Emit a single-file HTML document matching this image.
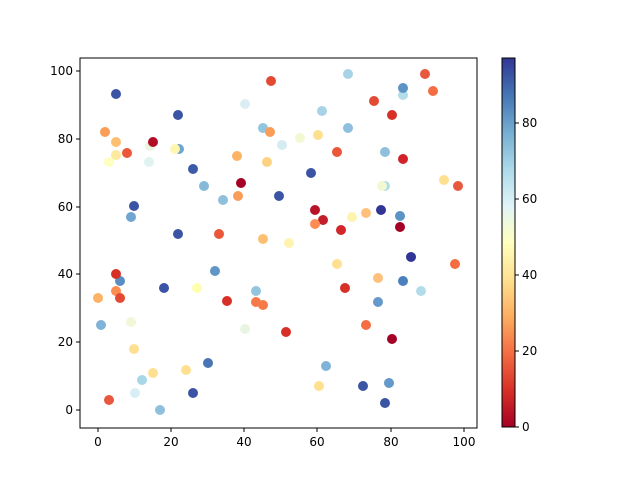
<!DOCTYPE html>
<html><head><meta charset="utf-8"><style>body{margin:0;background:#fff}</style></head><body>
<svg width="640" height="480" xmlns="http://www.w3.org/2000/svg" font-family="DejaVu Sans, Liberation Sans, sans-serif" font-size="12">
<defs><linearGradient id="g" x1="0" y1="1" x2="0" y2="0">
<stop offset="0" stop-color="#a50026"/><stop offset="0.1" stop-color="#d73027"/><stop offset="0.2" stop-color="#f46d43"/><stop offset="0.3" stop-color="#fdae61"/><stop offset="0.4" stop-color="#fee090"/><stop offset="0.5" stop-color="#ffffbf"/><stop offset="0.6" stop-color="#e0f3f8"/><stop offset="0.7" stop-color="#abd9e9"/><stop offset="0.8" stop-color="#74add1"/><stop offset="0.9" stop-color="#4575b4"/><stop offset="1" stop-color="#313695"/></linearGradient></defs>
<g r="5">
<circle cx="116" cy="94" r="5" fill="#3b54a3"/><circle cx="271" cy="81" r="5" fill="#e34a33"/><circle cx="245" cy="104" r="5" fill="#dbeef5"/><circle cx="178" cy="115" r="5" fill="#3b54a3"/><circle cx="263" cy="128" r="5" fill="#92c5de"/><circle cx="270" cy="132" r="5" fill="#f99d59"/><circle cx="105" cy="132" r="5" fill="#f99d59"/><circle cx="116" cy="142" r="5" fill="#fdbf71"/><circle cx="150" cy="146" r="5" fill="#eaf5e0"/><circle cx="153" cy="142" r="5" fill="#b30d26"/><circle cx="127" cy="153" r="5" fill="#ea5739"/><circle cx="179" cy="149" r="5" fill="#6fa5d0"/><circle cx="175" cy="149" r="5" fill="#fff6b0"/><circle cx="116" cy="155" r="5" fill="#fee99d"/><circle cx="109" cy="162" r="5" fill="#ffffbf"/><circle cx="149" cy="162" r="5" fill="#e0f3f0"/><circle cx="237" cy="156" r="5" fill="#fdb365"/><circle cx="267" cy="162" r="5" fill="#fed283"/><circle cx="193" cy="169" r="5" fill="#3c5ba6"/><circle cx="204" cy="186" r="5" fill="#84b9d9"/><circle cx="241" cy="183" r="5" fill="#a50026"/><circle cx="223" cy="200" r="5" fill="#8ec0dd"/><circle cx="238" cy="196" r="5" fill="#f99d59"/><circle cx="134" cy="206" r="5" fill="#3b54a3"/><circle cx="131" cy="217" r="5" fill="#6fa5d0"/><circle cx="178" cy="234" r="5" fill="#3b54a3"/><circle cx="219" cy="234" r="5" fill="#ea5739"/><circle cx="263" cy="239" r="5" fill="#fdbf71"/>
<circle cx="348" cy="74" r="5" fill="#a8d2e6"/><circle cx="425" cy="74" r="5" fill="#e8583e"/><circle cx="403" cy="95" r="5" fill="#b2dcea"/><circle cx="403" cy="88" r="5" fill="#5b93c5"/><circle cx="433" cy="91" r="5" fill="#f46d43"/><circle cx="374" cy="101" r="5" fill="#e34a33"/><circle cx="392" cy="115" r="5" fill="#d73027"/><circle cx="322" cy="111" r="5" fill="#a8d2e6"/><circle cx="348" cy="128" r="5" fill="#8ec0dd"/><circle cx="300" cy="138" r="5" fill="#f1f9d3"/><circle cx="318" cy="135" r="5" fill="#fee090"/><circle cx="282" cy="145" r="5" fill="#d4ebf3"/><circle cx="337" cy="152" r="5" fill="#ea5739"/><circle cx="385" cy="152" r="5" fill="#8ec0dd"/><circle cx="403" cy="159" r="5" fill="#d0232a"/><circle cx="311" cy="173" r="5" fill="#3b54a3"/><circle cx="444" cy="180" r="5" fill="#fee090"/><circle cx="458" cy="186" r="5" fill="#e8583e"/><circle cx="385" cy="186" r="5" fill="#b2dcea"/><circle cx="382" cy="186" r="5" fill="#f1f9d3"/><circle cx="279" cy="196" r="5" fill="#3b54a3"/><circle cx="315" cy="210" r="5" fill="#b9132a"/><circle cx="323" cy="220" r="5" fill="#c31e2a"/><circle cx="315" cy="224" r="5" fill="#fd8d55"/><circle cx="352" cy="217" r="5" fill="#fff3b0"/><circle cx="366" cy="213" r="5" fill="#fec07b"/><circle cx="381" cy="210" r="5" fill="#313695"/><circle cx="400" cy="216" r="5" fill="#5b93c5"/><circle cx="400" cy="227" r="5" fill="#a50026"/><circle cx="341" cy="230" r="5" fill="#d2262a"/><circle cx="289" cy="243" r="5" fill="#fff3b0"/>
<circle cx="120" cy="281" r="5" fill="#5a8ec3"/><circle cx="116" cy="274" r="5" fill="#d73027"/><circle cx="164" cy="288" r="5" fill="#3b54a3"/><circle cx="197" cy="288" r="5" fill="#ffffb0"/><circle cx="215" cy="271" r="5" fill="#6096c6"/><circle cx="116" cy="291" r="5" fill="#fd8d50"/><circle cx="98" cy="298" r="5" fill="#fdb265"/><circle cx="120" cy="298" r="5" fill="#e34a33"/><circle cx="227" cy="301" r="5" fill="#d73027"/><circle cx="256" cy="291" r="5" fill="#92c5de"/><circle cx="256" cy="302" r="5" fill="#f67a48"/><circle cx="263" cy="305" r="5" fill="#f67a48"/><circle cx="101" cy="325" r="5" fill="#7fb4d8"/><circle cx="131" cy="322" r="5" fill="#f0f8d8"/><circle cx="245" cy="329" r="5" fill="#e8f5e0"/><circle cx="134" cy="349" r="5" fill="#fee090"/><circle cx="153" cy="373" r="5" fill="#fee090"/><circle cx="186" cy="370" r="5" fill="#fee090"/><circle cx="208" cy="363" r="5" fill="#4a75b4"/><circle cx="142" cy="380" r="5" fill="#a8d7e8"/><circle cx="135" cy="393" r="5" fill="#d8eef5"/><circle cx="193" cy="393" r="5" fill="#3b54a3"/><circle cx="109" cy="400" r="5" fill="#e8583e"/><circle cx="160" cy="410" r="5" fill="#8ec0dd"/>
<circle cx="337" cy="264" r="5" fill="#fee090"/><circle cx="411" cy="257" r="5" fill="#313695"/><circle cx="455" cy="264" r="5" fill="#f46d43"/><circle cx="378" cy="278" r="5" fill="#fec07b"/><circle cx="403" cy="281" r="5" fill="#4a80bc"/><circle cx="421" cy="291" r="5" fill="#b2dcea"/><circle cx="345" cy="288" r="5" fill="#d73027"/><circle cx="378" cy="302" r="5" fill="#6499c9"/><circle cx="366" cy="325" r="5" fill="#f46d43"/><circle cx="286" cy="332" r="5" fill="#d73027"/><circle cx="392" cy="339" r="5" fill="#a50026"/><circle cx="326" cy="366" r="5" fill="#7fb4d8"/><circle cx="319" cy="386" r="5" fill="#fee090"/><circle cx="363" cy="386" r="5" fill="#3b54a3"/><circle cx="389" cy="383" r="5" fill="#6499c9"/><circle cx="385" cy="403" r="5" fill="#3b54a3"/>
</g>
<rect x="80" y="58" width="397" height="370" fill="none" stroke="#000" stroke-width="1"/>
<g stroke="#000">
<line x1="98" y1="428" x2="98" y2="432"/><line x1="171" y1="428" x2="171" y2="432"/><line x1="244" y1="428" x2="244" y2="432"/><line x1="317" y1="428" x2="317" y2="432"/><line x1="391" y1="428" x2="391" y2="432"/><line x1="464" y1="428" x2="464" y2="432"/>
<line x1="76" y1="410" x2="80" y2="410"/><line x1="76" y1="342" x2="80" y2="342"/><line x1="76" y1="274" x2="80" y2="274"/><line x1="76" y1="207" x2="80" y2="207"/><line x1="76" y1="139" x2="80" y2="139"/><line x1="76" y1="71" x2="80" y2="71"/>
<line x1="515" y1="427" x2="519" y2="427"/><line x1="515" y1="351" x2="519" y2="351"/><line x1="515" y1="275" x2="519" y2="275"/><line x1="515" y1="199" x2="519" y2="199"/><line x1="515" y1="123" x2="519" y2="123"/>
</g>
<g text-anchor="middle">
<text x="98" y="446">0</text><text x="171" y="446">20</text><text x="244" y="446">40</text><text x="317" y="446">60</text><text x="391" y="446">80</text><text x="464" y="446">100</text></g>
<g text-anchor="end">
<text x="73" y="414">0</text><text x="73" y="346">20</text><text x="73" y="278">40</text><text x="73" y="211">60</text><text x="73" y="143">80</text><text x="73" y="75">100</text></g>
<rect x="502" y="58" width="13" height="369" fill="url(#g)" stroke="#000" stroke-width="1"/>
<g><text x="522" y="431">0</text><text x="522" y="355">20</text><text x="522" y="279">40</text><text x="522" y="203">60</text><text x="522" y="127">80</text></g>
</svg>
</body></html>
